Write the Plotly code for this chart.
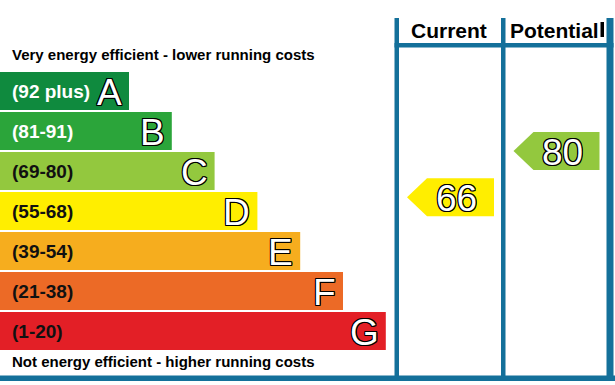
import plotly.graph_objects as go

# ---------------- data ----------------
bands = ["A", "B", "C", "D", "E", "F", "G"]
band_labels = ["(92 plus)", "(81-91)", "(69-80)", "(55-68)", "(39-54)", "(21-38)", "(1-20)"]
band_min = [92, 81, 69, 55, 39, 21, 1]
band_max = [100, 91, 80, 68, 54, 38, 20]
band_colors = ["#0f8a3e", "#2ba53a", "#93c83e", "#ffee00", "#f6ad1e", "#ec6a26", "#e31f26"]
label_colors = ["#ffffff", "#ffffff", "#111111", "#111111", "#111111", "#111111", "#111111"]
column_headers = ["Current", "Potential"]
ratings = [66, 80]          # current, potential
top_text = "Very energy efficient - lower running costs"
bottom_text = "Not energy efficient - higher running costs"

# ---------------- layout geometry ----------------
W, H = 615, 385
ROW0 = 91          # centre of first band row (px)
PITCH = 40
BAR_H = 38
BAR_LEN0 = 129
BAR_STEP = 42.8
BLUE = "#14709a"
FONT = "Liberation Sans, Arial, sans-serif"
OUTLINE = "-1px -1px 0 #000, 1px -1px 0 #000, -1px 1px 0 #000, 1px 1px 0 #000, 0 1px 0 #000, 0 -1px 0 #000, 1px 0 0 #000, -1px 0 0 #000"

# column separators (x ranges of the blue lines)
col_lines = [(394.5, 399.0), (501.0, 505.5), (606.5, 613.5)]

fig = go.Figure()

centers = [ROW0 + i * PITCH for i in range(len(bands))]
lengths = [BAR_LEN0 + i * BAR_STEP for i in range(len(bands))]

fig.add_trace(go.Bar(
    orientation="h", x=lengths, y=centers, base=0, width=BAR_H,
    marker=dict(color=band_colors, line=dict(width=0)),
    hoverinfo="skip", showlegend=False,
))

annotations = []
for i, b in enumerate(bands):
    annotations.append(dict(
        x=10, y=centers[i], xref="x", yref="y", xanchor="left", yanchor="middle",
        text=band_labels[i], showarrow=False,
        font=dict(family=FONT, size=19, color=label_colors[i], weight="bold"),
    ))
    annotations.append(dict(
        x=lengths[i] - 5, y=centers[i] + 1, xref="x", yref="y", xanchor="right", yanchor="middle",
        text=b, showarrow=False,
        font=dict(family=FONT, size=37, color="#ffffff", shadow=OUTLINE),
    ))


def rating_y(v):
    for i in range(len(bands)):
        if band_min[i] <= v <= band_max[i]:
            top = ROW0 - PITCH / 2 + i * PITCH
            return top + (band_max[i] - v) / (band_max[i] - band_min[i]) * PITCH, i
    return None, None


for c, v in enumerate(ratings):
    yc, bi = rating_y(v)
    left = col_lines[c][1] + 8
    right = col_lines[c + 1][0] - 7
    body = left + 20
    half = BAR_H / 2
    xs = [left, body, right, right, body, left]
    ys = [yc, yc - half, yc - half, yc + half, yc + half, yc]
    fig.add_trace(go.Scatter(
        x=xs, y=ys, mode="lines", fill="toself", fillcolor=band_colors[bi],
        line=dict(width=0, color=band_colors[bi]), hoverinfo="skip", showlegend=False,
    ))
    annotations.append(dict(
        x=(body + right) / 2 - 4, y=yc + 1, xref="x", yref="y", xanchor="center", yanchor="middle",
        text=str(v), showarrow=False,
        font=dict(family=FONT, size=37, color="#ffffff", shadow=OUTLINE),
    ))

for c, h in enumerate(column_headers):
    annotations.append(dict(
        x=(col_lines[c][1] + col_lines[c + 1][0]) / 2 - 1.5, y=30, xref="x", yref="y",
        xanchor="center", yanchor="middle", text=h, showarrow=False,
        font=dict(family=FONT, size=21, color="#000000", weight="bold"),
    ))

annotations.append(dict(x=10, y=54, xref="x", yref="y", xanchor="left", yanchor="middle",
                        text=top_text, showarrow=False,
                        font=dict(family=FONT, size=15, color="#000000", weight="bold")))
annotations.append(dict(x=10, y=361, xref="x", yref="y", xanchor="left", yanchor="middle",
                        text=bottom_text, showarrow=False,
                        font=dict(family=FONT, size=15, color="#000000", weight="bold")))

shapes = []
for (x0, x1) in col_lines:
    shapes.append(dict(type="rect", xref="x", yref="y", x0=x0, x1=x1, y0=18, y1=381,
                       fillcolor=BLUE, line=dict(width=0), layer="above"))
shapes.append(dict(type="rect", xref="x", yref="y", x0=col_lines[0][0], x1=col_lines[-1][1],
                   y0=43, y1=47.5, fillcolor=BLUE, line=dict(width=0), layer="above"))
shapes.append(dict(type="rect", xref="x", yref="y", x0=0, x1=W, y0=375.5, y1=381,
                   fillcolor=BLUE, line=dict(width=0), layer="above"))
# small dark mark after the "Potential" header, as in the original
shapes.append(dict(type="rect", xref="x", yref="y", x0=600.5, x1=604, y0=22, y1=37,
                   fillcolor="#000000", line=dict(width=0), layer="above"))

fig.update_layout(
    width=W, height=H, margin=dict(l=0, r=0, t=0, b=0),
    paper_bgcolor="white", plot_bgcolor="white",
    xaxis=dict(range=[0, W], visible=False, fixedrange=True),
    yaxis=dict(range=[H, 0], visible=False, fixedrange=True),
    annotations=annotations, shapes=shapes, showlegend=False,
)

fig.write_html("out.html", config={"displayModeBar": False, "staticPlot": True},
               post_script="document.body.style.margin='0';document.body.style.padding='0';")
